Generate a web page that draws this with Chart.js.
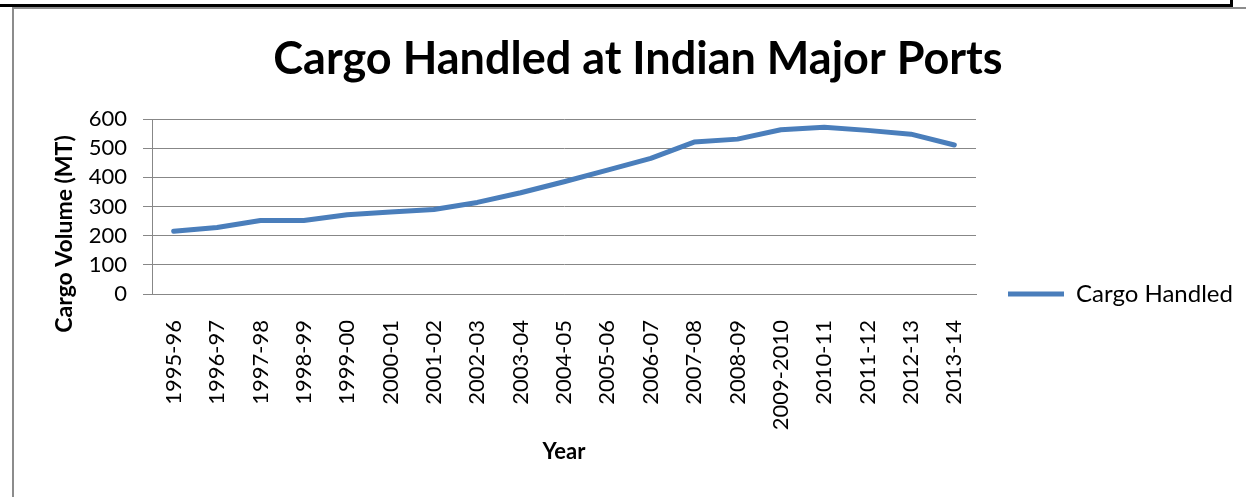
<!DOCTYPE html>
<html>
<head>
<meta charset="utf-8">
<script src="https://cdn.jsdelivr.net/npm/chart.js@4"></script>
<style>
  html, body { margin: 0; padding: 0; background: #fff; }
  #wrap { position: relative; width: 1248px; height: 497px; overflow: hidden; }
  #c { position: absolute; left: 0; top: 0; }
  .ln { position: absolute; }
</style>
</head>
<body>
<div id="wrap">
  <div class="ln" style="left:0;top:4px;width:1233px;height:3px;background:#000"></div>
  <div class="ln" style="left:1230px;top:0;width:3px;height:7px;background:#000"></div>
  <div class="ln" style="left:12px;top:7px;width:1234px;height:2px;background:#8c8c8c"></div>
  <div class="ln" style="left:12px;top:7px;width:2px;height:490px;background:#8c8c8c"></div>
  <canvas id="c" width="1248" height="497"></canvas>
</div>
<script>
const categories = ["1995-96","1996-97","1997-98","1998-99","1999-00","2000-01","2001-02","2002-03","2003-04","2004-05","2005-06","2006-07","2007-08","2008-09","2009-2010","2010-11","2011-12","2012-13","2013-14"];
const cargoHandled = [215, 228, 252, 252, 272, 281, 290, 314, 347, 385, 425, 465, 521, 531, 563, 572, 561, 548, 511];
const seriesName = "Cargo Handled";
const chartTitle = "Cargo Handled at Indian Major Ports";
const yTitle = "Cargo Volume (MT)";
const xTitle = "Year";
const yMin = 0, yMax = 600, yStep = 100;

Chart.defaults.font.family = "Lato, 'Open Sans', sans-serif";
Chart.defaults.color = "#000";

const gridGray = "#878787";
const PAD_LEFT = 55;
const PLOT_LEFT = 152;
const PLOT_RIGHT = 976;
const LEGEND_X = 998;    // left edge of legend box
const LEGEND_CY = 294;   // vertical centre of legend item

const yTitlePlugin = {
  id: 'yTitlePlugin',
  afterDraw(chart) {
    const ctx = chart.ctx;
    ctx.save();
    ctx.translate(65, 234);
    ctx.rotate(-Math.PI / 2);
    ctx.font = "bold 23px Lato, 'Open Sans', sans-serif";
    ctx.fillStyle = "#000";
    ctx.textAlign = "center";
    ctx.textBaseline = "middle";
    ctx.fillText(yTitle, 0, 0);
    ctx.restore();
  }
};

const legendPlacer = {
  id: 'legendPlacer',
  afterLayout(chart) {
    const lg = chart.legend;
    if (!lg) return;
    const w = lg.width, h = lg.height;
    lg.left = LEGEND_X; lg.right = LEGEND_X + w;
    lg.top = LEGEND_CY - h / 2; lg.bottom = lg.top + h;
  }
};

const chart = new Chart(document.getElementById('c'), {
  type: 'line',
  data: {
    labels: categories,
    datasets: [{
      label: seriesName,
      data: cargoHandled,
      borderColor: "#4A7EBB",
      backgroundColor: "#4A7EBB",
      borderWidth: 5,
      pointRadius: 0,
      pointHoverRadius: 0,
      tension: 0,
      borderCapStyle: 'round',
      borderJoinStyle: 'round',
      fill: false
    }]
  },
  options: {
    responsive: false,
    animation: false,
    events: [],
    layout: { padding: { left: PAD_LEFT, right: 0, top: 0, bottom: 0 } },
    plugins: {
      title: {
        display: true,
        text: chartTitle,
        color: "#000",
        font: { size: 45, weight: 'bold', lineHeight: 1.2 },
        padding: { top: 32, bottom: 33 }
      },
      legend: {
        display: true,
        position: 'right',
        align: 'center',
        fullSize: false,
        labels: {
          boxWidth: 56,
          boxHeight: 5,
          padding: 10,
          font: { size: 24 },
          color: "#000",
          generateLabels(chart) {
            const ds = chart.data.datasets[0];
            return [{ text: ds.label, fillStyle: ds.borderColor, strokeStyle: ds.borderColor, lineWidth: 0, hidden: false, datasetIndex: 0 }];
          }
        }
      },
      tooltip: { enabled: false }
    },
    scales: {
      x: {
        type: 'category',
        offset: true,
        grid: { display: false },
        border: { display: true, color: gridGray, width: 1 },
        ticks: {
          autoSkip: false,
          minRotation: 90,
          maxRotation: 90,
          padding: 18,
          font: { size: 22 },
          color: "#000"
        },
        title: {
          display: true,
          text: xTitle,
          font: { size: 22, weight: 'bold', lineHeight: 1.2 },
          color: "#000",
          padding: { top: 0, bottom: 32 }
        },
        afterFit(scale) { scale.height = 497 - 294; }
      },
      y: {
        min: yMin,
        max: yMax,
        ticks: { stepSize: yStep, autoSkip: false, padding: 16, font: { size: 22 }, color: "#000" },
        grid: { color: gridGray, lineWidth: 1, tickLength: 9, drawTicks: true },
        border: { display: true, color: gridGray, width: 1 },
        afterFit(scale) { scale.width = PLOT_LEFT - PAD_LEFT; }
      }
    }
  },
  plugins: [yTitlePlugin, legendPlacer]
});

// size the right padding so the plot area ends where the reference's does
chart.options.layout.padding.right = Math.max(0, 1248 - PLOT_RIGHT - chart.legend.width);
chart.update();
</script>
</body>
</html>
